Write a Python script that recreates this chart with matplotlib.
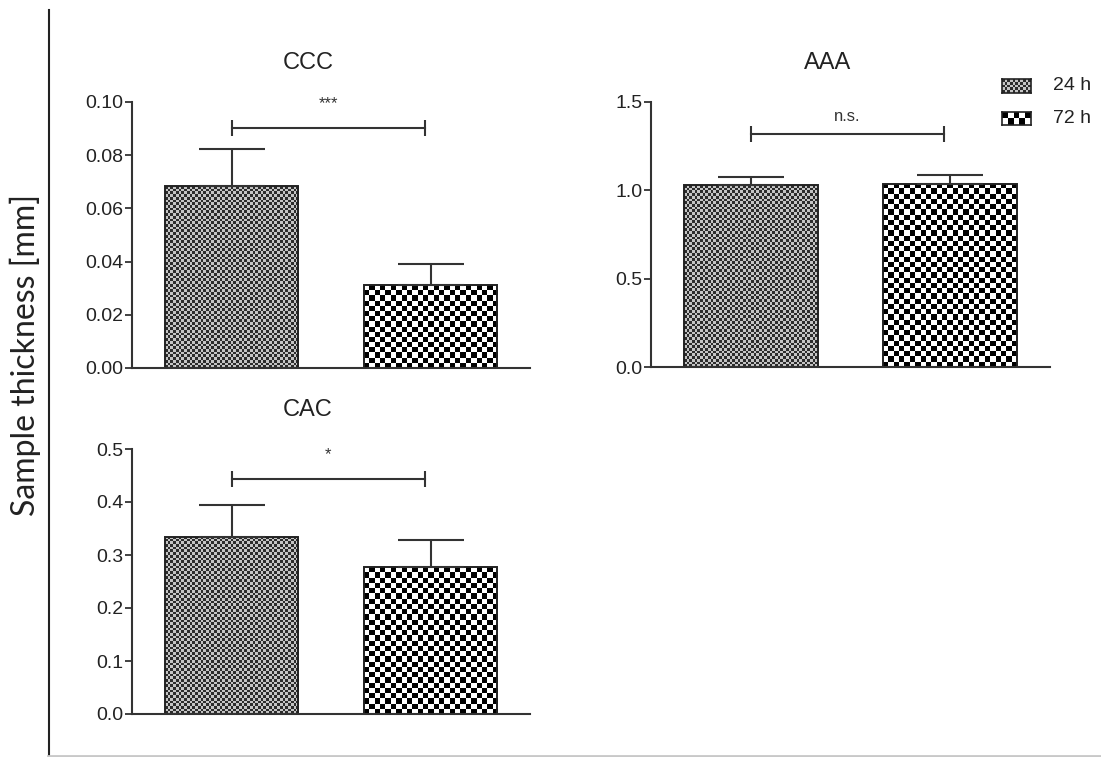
import numpy as np
import matplotlib
matplotlib.use("Agg")
import matplotlib.pyplot as plt
from matplotlib.colors import ListedColormap
from matplotlib.lines import Line2D

# thickness means and SEM for the two time points
groups = ["24 h", "72 h"]
ccc_mean = [0.0684, 0.0312]
ccc_sem = [0.0139, 0.0079]
aaa_mean = [1.028, 1.036]
aaa_sem = [0.045, 0.051]
cac_mean = [0.334, 0.277]
cac_sem = [0.060, 0.051]

ccc_ticks = [0.00, 0.02, 0.04, 0.06, 0.08, 0.10]
aaa_ticks = [0.0, 0.5, 1.0, 1.5]
cac_ticks = [0.0, 0.1, 0.2, 0.3, 0.4, 0.5]

# significance bars: (height, label)
ccc_sig = (0.0902, "***")
aaa_sig = (1.319, "n.s.")
cac_sig = (0.443, "*")

FONT = "Liberation Sans"
AX_COL = "#333333"
W, H = 1101, 757

# (cell size in px, dark colour, light colour) for each group texture
textures = [(2.7, "#2c2c2c", "#c4c4c4"), (5.3, "#000000", "#ffffff")]


def checker(ny, nx):
    return np.add.outer(np.arange(ny), np.arange(nx)) % 2


def checker_fill(ax, patch, cell_px, dark, light):
    x0, y0 = patch.get_xy()
    w, h = patch.get_width(), patch.get_height()
    (px0, py0), (px1, py1) = ax.transData.transform([(x0, y0), (x0 + w, y0 + h)])
    nx = max(1, int(round(abs(px1 - px0) / cell_px)))
    ny = max(1, int(round(abs(py1 - py0) / cell_px)))
    im = ax.imshow(checker(ny, nx), cmap=ListedColormap([dark, light]),
                   extent=(x0, x0 + w, y0, y0 + h), origin="lower",
                   interpolation="nearest", aspect="auto", zorder=1)
    im.set_clip_path(patch)
    return im


def panel(rect_px, title_y, title, means, sems, ticks, fmt, sig):
    left, top, right, bottom = rect_px
    ax = fig.add_axes([left / W, 1 - bottom / H, (right - left) / W, (bottom - top) / H])
    ax.set_xlim(-0.5, 1.5)
    ax.set_ylim(ticks[0], ticks[-1])
    x = np.arange(len(means))
    bars = ax.bar(x, means, width=0.67, facecolor="none", edgecolor="#222222",
                  linewidth=1.4, zorder=2)
    for b, (cell, dark, light) in zip(bars, textures):
        checker_fill(ax, b, cell, dark, light)
    ax.errorbar(x, means, yerr=[np.zeros(len(sems)), sems], fmt="none", ecolor="#333333",
                elinewidth=1.5, capsize=24, capthick=1.5, zorder=3)

    # bracket between the two groups with its label
    ax.plot([0, 0.97], [sig[0], sig[0]], color="#333333", lw=1.5, marker="|", markersize=11,
            markeredgewidth=1.5, clip_on=False, zorder=3)
    dy = 7 if sig[1] == "n.s." else 12
    ax.annotate(sig[1], (0.485, sig[0]), xytext=(0, dy), textcoords="offset points",
                ha="center", va="bottom", fontsize=12, family=FONT, color="#333333")

    for s in ["top", "right"]:
        ax.spines[s].set_visible(False)
    for s in ["left", "bottom"]:
        ax.spines[s].set_color(AX_COL)
        ax.spines[s].set_linewidth(1.5)
    ax.set_xticks([])
    ax.set_yticks(ticks)
    ax.set_yticklabels([fmt.format(t) for t in ticks], family=FONT, fontsize=14, color="#222222")
    ax.tick_params(axis="y", direction="out", length=5, width=1.3, color=AX_COL, pad=1)

    # title centred over the panel including its tick labels
    fig.text((left - 46 + right) / 2 / W, 1 - title_y / H, title, ha="center", va="center",
             fontsize=17, family=FONT, color="#222222")
    return ax


fig = plt.figure(figsize=(W / 100, H / 100), dpi=100)

ax1 = panel((132, 102, 530, 368), 63, "CCC", ccc_mean, ccc_sem, ccc_ticks, "{:.2f}", ccc_sig)
ax2 = panel((651, 102, 1050, 367), 63, "AAA", aaa_mean, aaa_sem, aaa_ticks, "{:.1f}", aaa_sig)
ax3 = panel((132, 449, 530, 714), 410, "CAC", cac_mean, cac_sem, cac_ticks, "{:.1f}", cac_sig)

# legend drawn beside the AAA panel
legend_rows = [(79, 93), (112, 125)]
for name, (cell, dark, light), (y_top, y_bot) in zip(groups, textures, legend_rows):
    x0, x1 = 1002, 1031
    lax = fig.add_axes([x0 / W, 1 - y_bot / H, (x1 - x0) / W, (y_bot - y_top) / H])
    nx = int(round((x1 - x0) / cell))
    ny = int(round((y_bot - y_top) / cell))
    lax.imshow(checker(ny, nx), cmap=ListedColormap([dark, light]),
               interpolation="nearest", aspect="auto")
    lax.set_xticks([])
    lax.set_yticks([])
    for s in lax.spines.values():
        s.set_color("#222222")
        s.set_linewidth(1.2)
    fig.text(1053 / W, 1 - (y_top + y_bot) / 2 / H, name, ha="left", va="center",
             fontsize=14, family=FONT, color="#222222")

# shared y label and framing lines
fig.text(25 / W, 1 - 355 / H, "Sample thickness [mm]", rotation=90, ha="center", va="center",
         fontsize=23, family="Lato", color="#222222")
fig.add_artist(Line2D([49 / W, 49 / W], [0, 1 - 10 / H], transform=fig.transFigure,
                      color="#222222", lw=1.5))
fig.add_artist(Line2D([48 / W, 1], [1.5 / H, 1.5 / H], transform=fig.transFigure,
                      color="#c8c8c8", lw=2))

fig.savefig("out.png", dpi=100)
